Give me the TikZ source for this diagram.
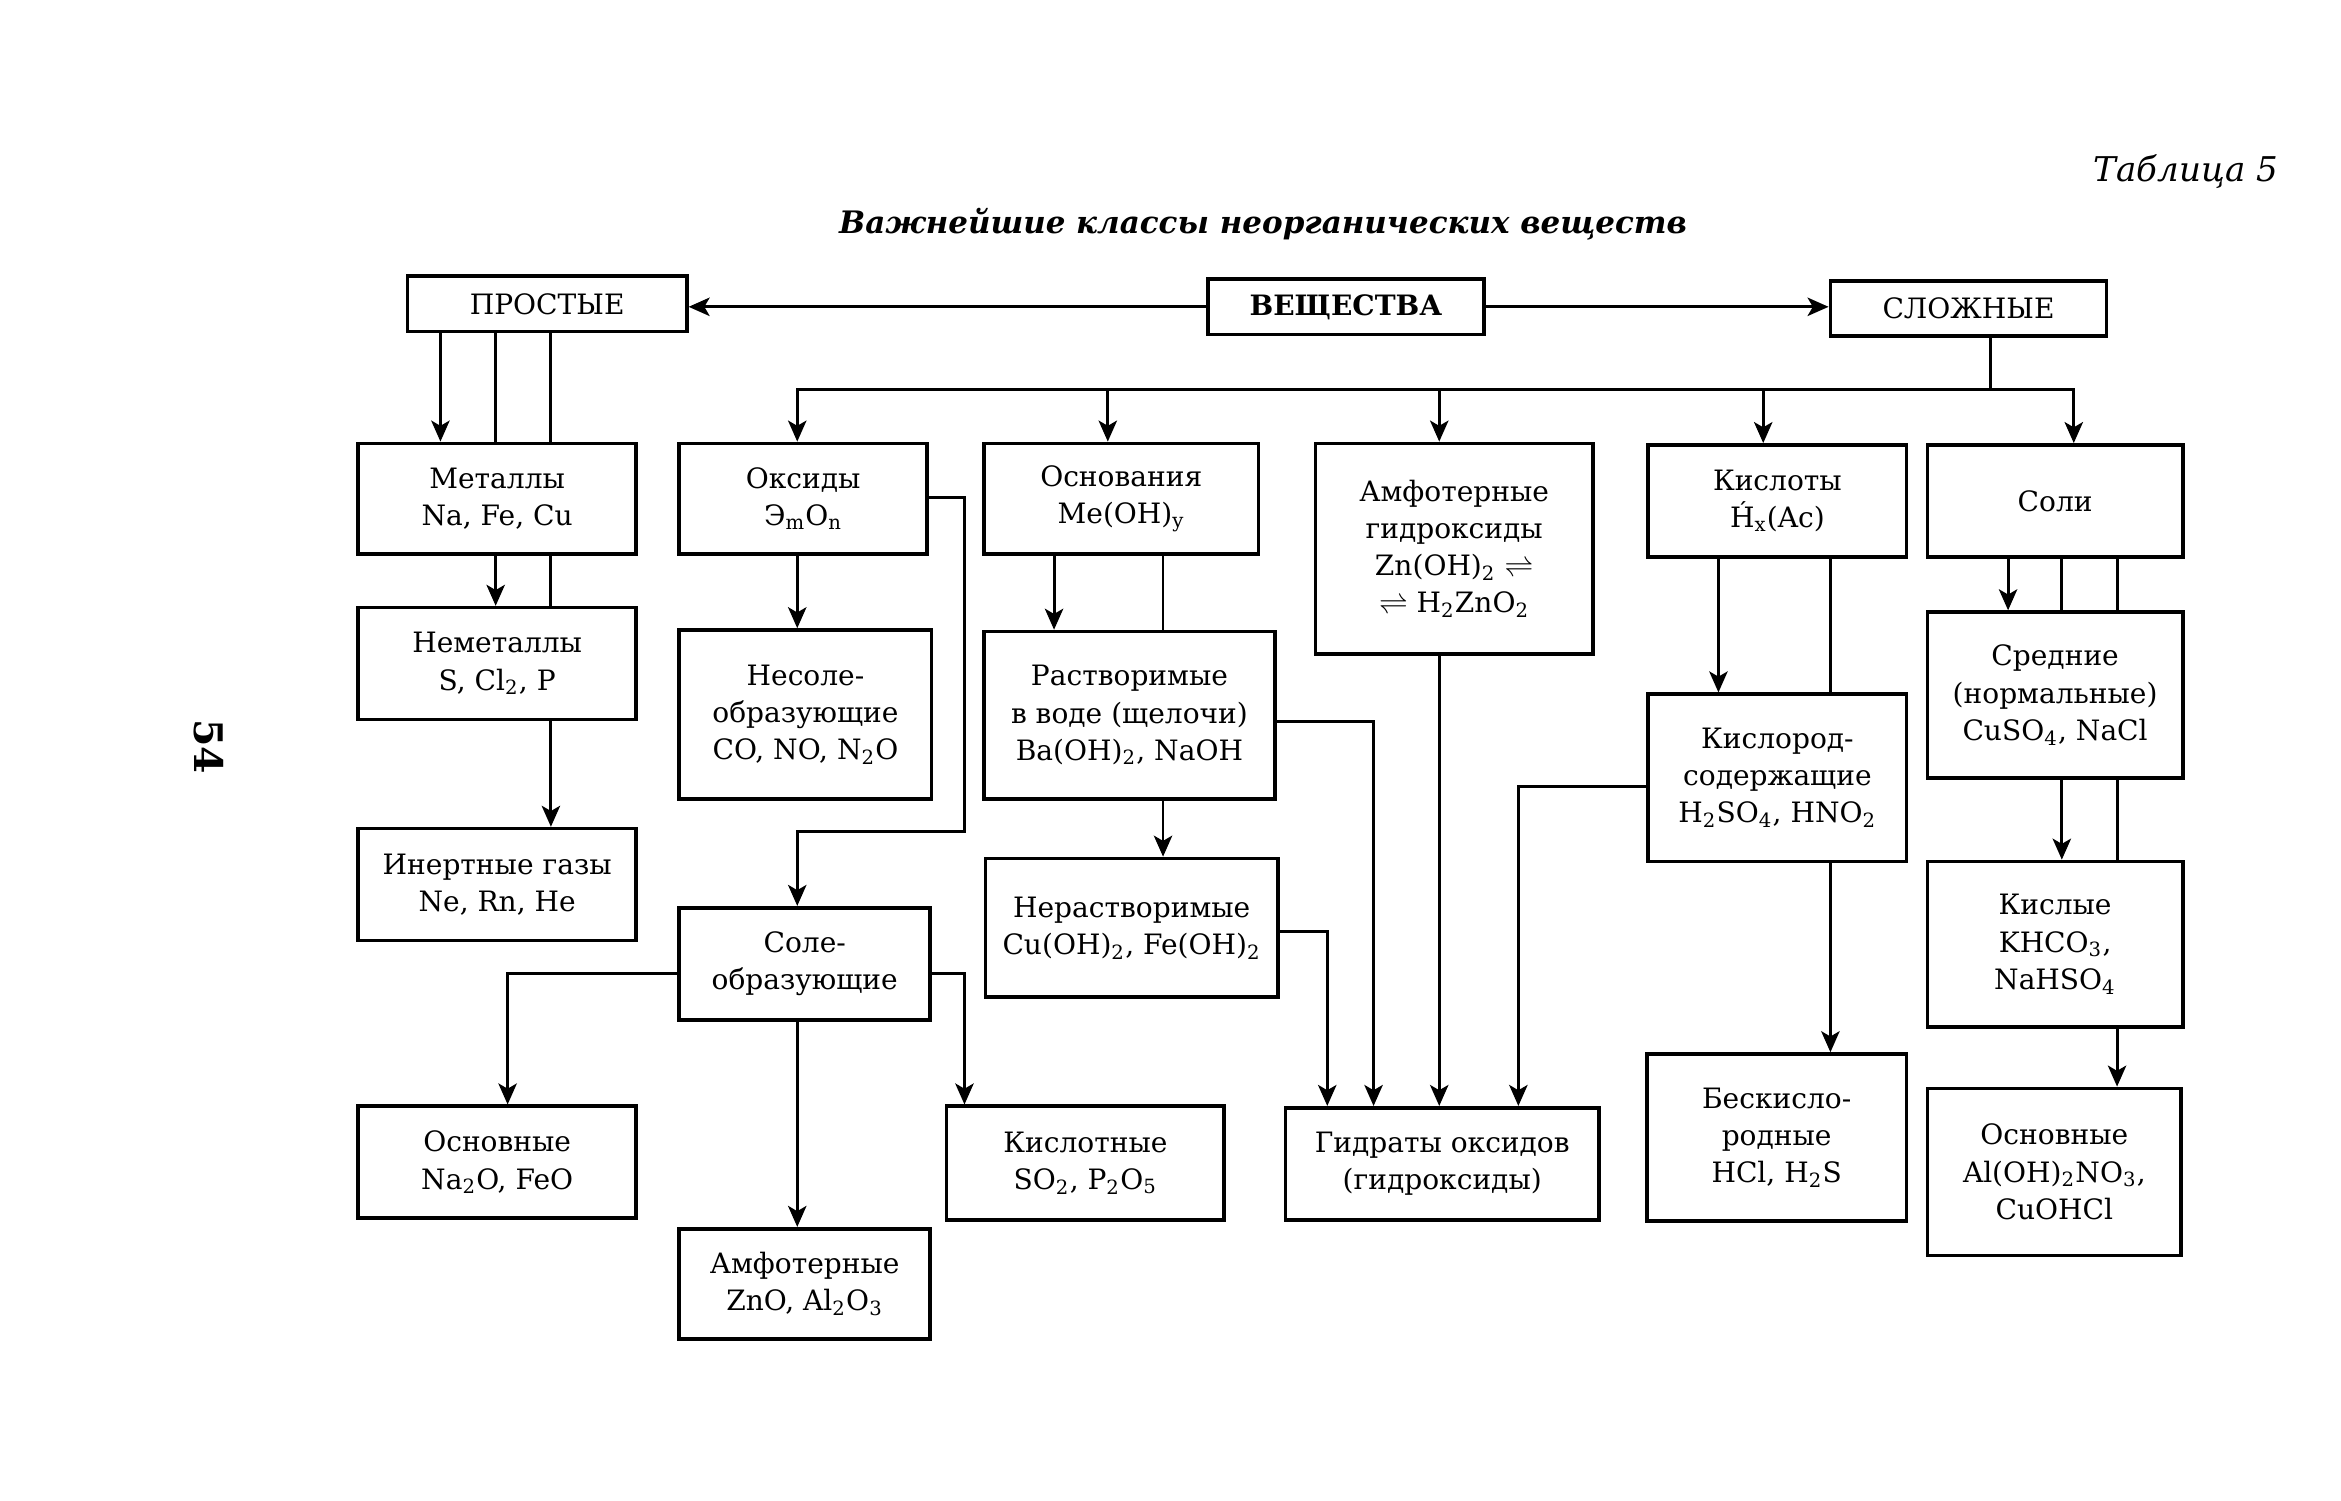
\documentclass[tikz,border=0pt]{standalone}
\usepackage{fontspec}
\setmainfont{DejaVu Serif}
\usetikzlibrary{arrows.meta}
\newcommand{\ix}[1]{\textsubscript{#1}}

\begin{document}
\begin{tikzpicture}[x=0.02cm,y=-0.02cm,
    box/.style 2 args={draw,line width=1.4pt,fill=white,align=center,inner sep=0pt,
      minimum width=#1*0.02cm,minimum height=#2*0.02cm},
    arr/.style={-{Stealth[length=8pt,width=7pt,inset=2pt]}}]

  \useasboundingbox (0,0) rectangle (1568,1004.7);

  \node (tabl)  at (1464,115) {\fontsize{13}{13}\selectfont\itshape Таблица 5};
  \node (title) at (846,150)  {\fontsize{11.8}{12}\selectfont\bfseries\itshape Важнейшие классы неорганических веществ};
  \node[rotate=-90] (page) at (140,500) {\fontsize{15}{15}\selectfont\bfseries 54};

  \begin{scope}[every node/.style={font=\fontsize{10.7}{14.2}\selectfont}]
    \node[box={185}{37}] (1)  at (901.5,205.5) {\bfseries ВЕЩЕСТВА};
    \node[box={187}{37}] (2)  at (366.5,203.5) {ПРОСТЫЕ};
    \node[box={185}{37}] (3)  at (1318.5,206.5) {СЛОЖНЫЕ};

    \node[box={186}{74}] (4)  at (333,334)   {Металлы\\Na, Fe, Cu};
    \node[box={186}{75}] (5)  at (333,444.5) {Неметаллы\\S, Cl\ix{2}, P};
    \node[box={186}{75}] (6)  at (333,592.5) {Инертные газы\\Ne, Rn, He};

    \node[box={166}{74}]  (7)  at (538,334)   {Оксиды\\Э\ix{m}O\ix{n}};
    \node[box={169}{113}] (8)  at (539.5,478.5) {Несоле-\\образующие\\CO, NO, N\ix{2}O};
    \node[box={168}{75}]  (9)  at (539,645.5) {Соле-\\образующие};
    \node[box={186}{75}]  (10) at (333,778.5) {Основные\\Na\ix{2}O, FeO};
    \node[box={168}{74}]  (11) at (539,860)   {Амфотерные\\ZnO, Al\ix{2}O\ix{3}};
    \node[box={186}{76}]  (12) at (727,779)   {Кислотные\\SO\ix{2}, P\ix{2}O\ix{5}};

    \node[box={184}{74}]  (13) at (751,334)   {Основания\\Me(OH)\ix{y}};
    \node[box={195}{112}] (14) at (756.5,479) {Растворимые\\в воде (щелочи)\\Ba(OH)\ix{2}, NaOH};
    \node[box={196}{93}]  (15) at (758,621.5) {Нерастворимые\\Cu(OH)\ix{2}, Fe(OH)\ix{2}};

    \node[box={186}{141}] (16) at (974,367.5) {Амфотерные\\гидроксиды\\Zn(OH)\ix{2} $\rightleftharpoons$\\$\rightleftharpoons$ H\ix{2}ZnO\ix{2}};
    \node[box={210}{75}]  (17) at (966,779.5) {Гидраты оксидов\\(гидроксиды)};

    \node[box={173}{75}]  (18) at (1190.5,335.5) {Кислоты\\\'H\ix{x}(Ac)};
    \node[box={173}{112}] (19) at (1190.5,521)   {Кислород-\\содержащие\\H\ix{2}SO\ix{4}, HNO\ix{2}};
    \node[box={174}{112}] (20) at (1190,762)     {Бескисло-\\родные\\HCl, H\ix{2}S};

    \node[box={171}{75}]  (21) at (1376.5,335.5) {Соли};
    \node[box={171}{111}] (22) at (1376.5,465.5) {Средние\\(нормальные)\\CuSO\ix{4}, NaCl};
    \node[box={171}{111}] (23) at (1376.5,632.5) {Кислые\\KHCO\ix{3},\\NaHSO\ix{4}};
    \node[box={170}{112}] (24) at (1376,785)     {Основные\\Al(OH)\ix{2}NO\ix{3},\\CuOHCl};
  \end{scope}

  \coordinate (bus) at (1333,261);

  \begin{scope}[line width=1.1pt]
    % top row
    \draw[arr] (1.west) -- (2.east |- 1.west);
    \draw[arr] (1.east) -- (3.west |- 1.east);
    \draw (3.south -| bus) -- (bus);
    \draw[arr] (bus) -| (7.north -| 534,0);
    \draw[arr] (bus) -| (21.north -| 1389,0);
    \draw[arr] (bus -| 742,0)  -- (13.north -| 742,0);
    \draw[arr] (bus -| 964,0)  -- (16.north -| 964,0);
    \draw[arr] (bus -| 1181,0) -- (18.north -| 1181,0);

    % simple substances
    \draw[arr] (2.south -| 295,0) -- (4.north -| 295,0);
    \draw (2.south -| 332,0) -- (4.north -| 332,0);
    \draw (2.south -| 369,0) -- (4.north -| 369,0);
    \draw[arr] (4.south -| 332,0) -- (5.north -| 332,0);
    \draw (4.south -| 369,0) -- (5.north -| 369,0);
    \draw[arr] (5.south -| 369,0) -- (6.north -| 369,0);

    % oxides
    \draw[arr] (7.south -| 534,0) -- (8.north -| 534,0);
    \draw[arr] (7.east |- 0,333) -| (646,557) -| (9.north -| 534,0);
    \draw[arr] (9.west |- 0,652) -| (10.north -| 340,0);
    \draw[arr] (9.south -| 534,0) -- (11.north -| 534,0);
    \draw[arr] (9.east |- 0,652) -| (12.north -| 646,0);

    % bases and hydroxides
    \draw[arr] (13.south -| 706,0) -- (14.north -| 706,0);
    \draw (13.south -| 779,0) -- (14.north -| 779,0);
    \draw[arr] (14.south -| 779,0) -- (15.north -| 779,0);
    \draw[arr] (14.east |- 0,483) -| (17.north -| 920,0);
    \draw[arr] (15.east |- 0,624) -| (17.north -| 889,0);
    \draw[arr] (16.south -| 964,0) -- (17.north -| 964,0);
    \draw[arr] (19.west |- 0,527) -| (17.north -| 1017,0);

    % acids
    \draw[arr] (18.south -| 1151,0) -- (19.north -| 1151,0);
    \draw (18.south -| 1226,0) -- (19.north -| 1226,0);
    \draw[arr] (19.south -| 1226,0) -- (20.north -| 1226,0);

    % salts
    \draw[arr] (21.south -| 1345,0) -- (22.north -| 1345,0);
    \draw (21.south -| 1381,0) -- (22.north -| 1381,0);
    \draw (21.south -| 1418,0) -- (22.north -| 1418,0);
    \draw[arr] (22.south -| 1381,0) -- (23.north -| 1381,0);
    \draw (22.south -| 1418,0) -- (23.north -| 1418,0);
    \draw[arr] (23.south -| 1418,0) -- (24.north -| 1418,0);
  \end{scope}

\end{tikzpicture}
\end{document}
